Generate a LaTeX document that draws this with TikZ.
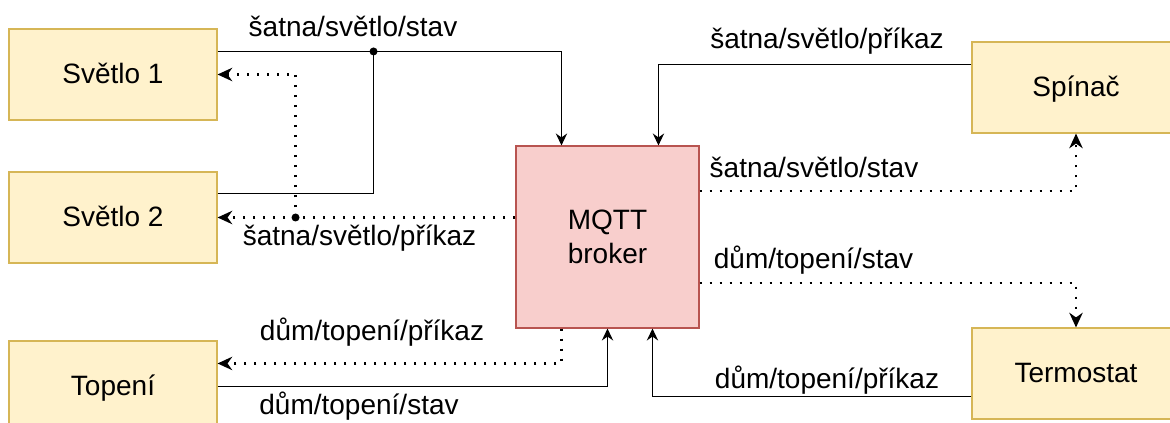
\documentclass[tikz,border=0pt]{standalone}
\usepackage{fontspec}
\setmainfont{Liberation Sans}
\usetikzlibrary{arrows.meta,calc}

\definecolor{devfill}{HTML}{FFF2CC}
\definecolor{devdraw}{HTML}{D6B656}
\definecolor{brokerfill}{HTML}{F8CECC}
\definecolor{brokerdraw}{HTML}{B85450}

\tikzset{
	every node/.style={font=\fontsize{21pt}{25.5pt}\selectfont},
	device/.style={draw=devdraw, fill=devfill, line width=0.8pt, minimum width=156pt, minimum height=68.25pt, text height=16pt, text depth=3.2pt},
	broker/.style={draw=brokerdraw, fill=brokerfill, line width=0.8pt, minimum width=137.25pt, minimum height=136.5pt, align=center},
	pubwire/.style={line width=1pt},
	publine/.style={pubwire, -{Stealth[length=9pt,width=8.5pt,inset=3pt]}},
	subline/.style={line width=1.8pt, dash pattern=on 1.5pt off 6pt, -{Stealth[length=11pt,width=10pt,inset=3.5pt]}},
	topic/.style={anchor=base, inner sep=0pt},
}

\begin{document}
\begin{tikzpicture}[x=0.75pt,y=0.75pt,yscale=-1,xscale=1]
	%set diagram to 1170 x 423
	\useasboundingbox (0,0) rectangle (1170,423);
	\clip (0,0) rectangle (1170,423);
	
	%Shape: Rectangle
	\node[device] (svetlo1) at (113,74.5) {Světlo 1};
	%Shape: Rectangle
	\node[device] (svetlo2) at (113,217.5) {Světlo 2};
	%Shape: Rectangle
	\node[device] (topeni) at (113,386.5) {Topení};
	%Shape: Rectangle
	\node[broker] (mqtt) at (607.5,237) {MQTT\\broker};
	%Shape: Rectangle
	\node[device] (spinac) at (1076,87.5) {Spínač};
	%Shape: Rectangle
	\node[device] (termostat) at (1076,373.5) {Termostat};
	
	%Junctions
	\coordinate (j1) at ($(svetlo1.north east)+(156,23)$);
	\coordinate (j2) at ($(svetlo2.east)+(78,0)$);
	
	%Straight Lines
	\draw[publine] ($(svetlo1.north east)+(0,23)$) -| ($(mqtt.north west)+(46,0)$);
	\draw[pubwire] ($(svetlo2.north east)+(0,22)$) -| (j1);
	\draw[subline] (mqtt.west |- svetlo2.east) -- (svetlo2.east);
	\draw[subline] (j2) |- (svetlo1.east);
	%Straight Lines
	\draw[publine] ($(spinac.north west)+(0,23)$) -| ($(mqtt.north west)+(143,0)$);
	\draw[subline] ($(mqtt.north east)+(0,45.5)$) -| (spinac.south);
	%Straight Lines
	\draw[subline] ($(mqtt.south east)+(0,-45.5)$) -| (termostat.north);
	\draw[publine] ($(termostat.south west)+(0,-23)$) -| ($(mqtt.south west)+(137,0)$);
	%Straight Lines
	\draw[publine] (topeni.east) -| (mqtt.south);
	\draw[subline] ($(mqtt.south west)+(46,0)$) |- ($(topeni.north east)+(0,23)$);
	
	\fill (j1) circle (4);
	\fill (j2) circle (4);
	
	% Text Node
	\node[topic] (t1) at (353,37) {šatna/světlo/stav};
	% Text Node
	\node[topic] (t2) at (359.5,246) {šatna/světlo/příkaz};
	% Text Node
	\node[topic] (t3) at (827,49) {šatna/světlo/příkaz};
	% Text Node
	\node[topic] (t4) at (814,178) {šatna/světlo/stav};
	% Text Node
	\node[topic] (t5) at (813.5,269) {dům/topení/stav};
	% Text Node
	\node[topic] (t6) at (827,389) {dům/topení/příkaz};
	% Text Node
	\node[topic] (t7) at (372,341) {dům/topení/příkaz};
	% Text Node
	\node[topic] (t8) at (359,415) {dům/topení/stav};
	
\end{tikzpicture}
\end{document}
